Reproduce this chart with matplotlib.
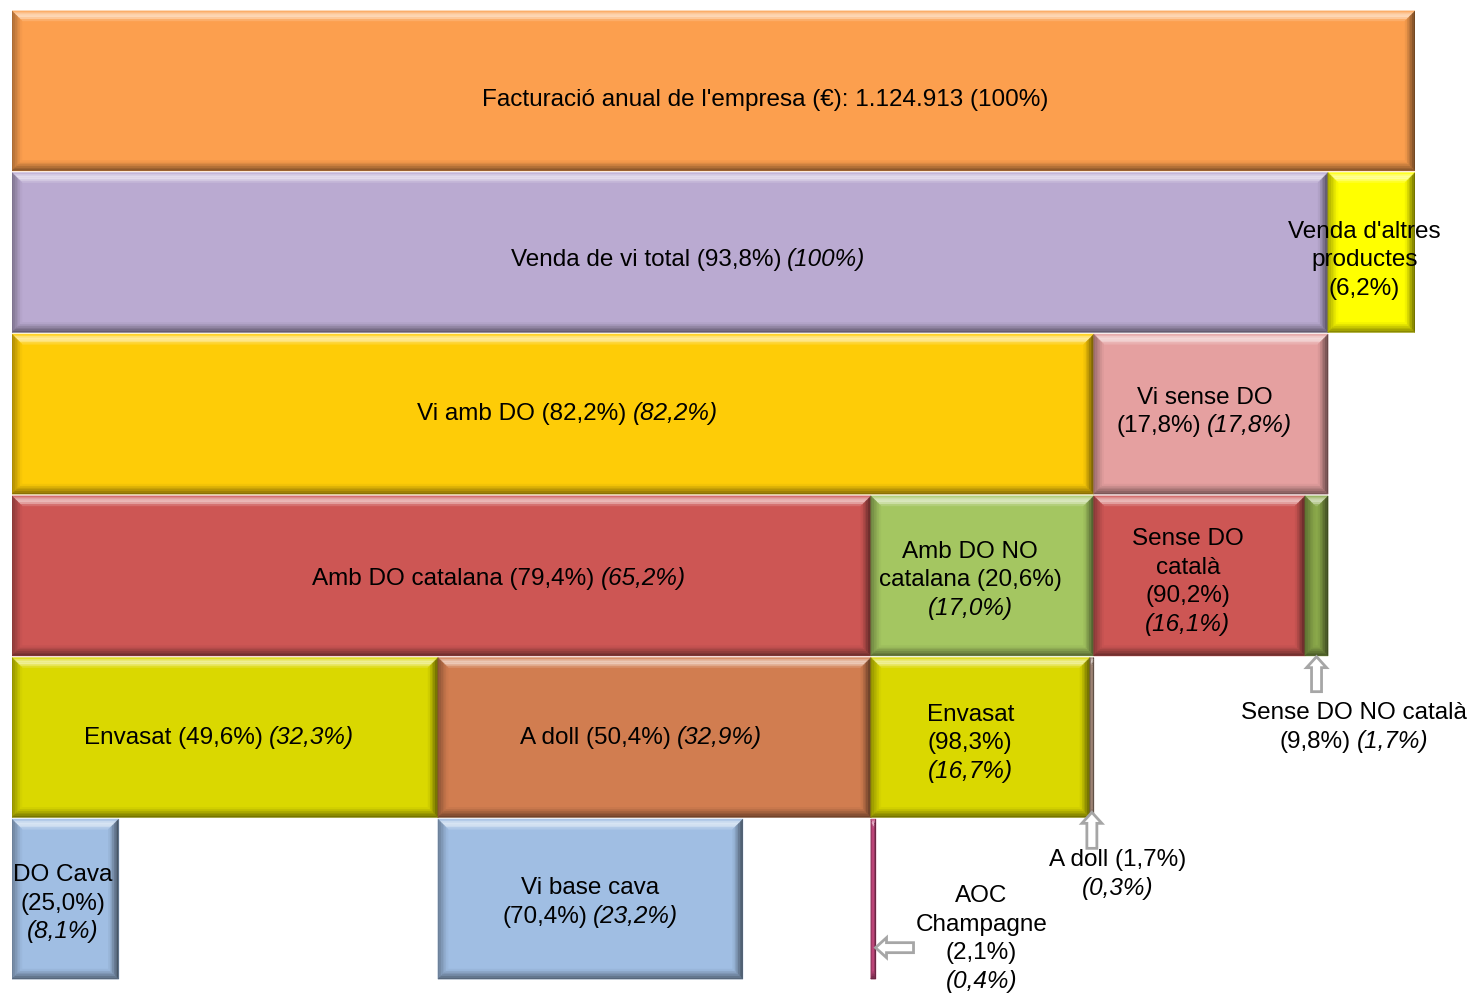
import numpy as np
import matplotlib
matplotlib.use("Agg")
import matplotlib.pyplot as plt
from matplotlib.patches import Rectangle, Polygon
from matplotlib.colors import to_rgb
from matplotlib.transforms import IdentityTransform

plt.rcParams['font.family'] = ['Liberation Sans', 'DejaVu Sans']

# facturació total de l'empresa (€)
total = 1124913

# arbre: pare de cada node, % sobre el pare, % sobre la venda de vi
parents = [-1, 0, 0, 1, 1, 3, 3, 4, 4, 5, 5, 6, 6, 9, 10, 11]
share = [100, 93.8, 6.2, 82.2, 17.8, 79.4, 20.6, 90.2, 9.8,
         49.6, 50.4, 98.3, 1.7, 25.0, 70.4, 2.1]
wine_share = [None, 100, None, 82.2, 17.8, 65.2, 17.0, 16.1, 1.7,
              32.3, 32.9, 16.7, 0.3, 8.1, 23.2, 0.4]

# etiquetes: {p} = % sobre el pare, {w} = % sobre vi, _..._ = cursiva
labels = [
    "Facturació anual de l'empresa (€): {t} {p}",
    "Venda de vi total {p} _{w}_",
    "Venda d'altres\nproductes\n{p}",
    "Vi amb DO {p} _{w}_",
    "Vi sense DO\n{p} _{w}_",
    "Amb DO catalana {p} _{w}_",
    "Amb DO NO\ncatalana {p}\n_{w}_",
    "Sense DO\ncatalà\n{p}\n_{w}_",
    "Sense DO NO català\n{p} _{w}_",
    "Envasat {p} _{w}_",
    "A doll {p} _{w}_",
    "Envasat\n{p}\n_{w}_",
    "A doll {p}\n_{w}_",
    "DO Cava\n{p}\n_{w}_",
    "Vi base cava\n{p} _{w}_",
    "AOC\nChampagne\n{p}\n_{w}_",
]

colors = ['#FC9F4E', '#BAAAD1', '#FFFF00', '#FECC07', '#E5A0A0', '#CD5654',
          '#A4C661', '#CD5654', '#8AA84A', '#DAD800', '#D17D50', '#DAD800',
          '#A58A7A', '#A0BEE3', '#A0BEE3', '#C84A80']

# centre de cada etiqueta (x en %, y en files)
label_pos = [(53.7, 0.54), (48.2, 1.53), (96.4, 1.53), (39.6, 2.48),
             (85.0, 2.47), (34.7, 3.50), (68.3, 3.51), (83.8, 3.52),
             (95.65, 4.42), (14.75, 4.485), (44.8, 4.485), (68.3, 4.52),
             (78.8, 5.33), (3.64, 5.51), (41.2, 5.505), (69.1, 5.73)]

# fletxes cap a les barres estretes: direcció, desplaçament, llargada (px)
arrows = {8: ('up', 0.0, 35), 12: ('up', -6, 36), 15: ('left', 5.80, 38)}


def pct(v):
    if v == 100:
        return "(100%)"
    return "({:.1f}%)".format(v).replace(".", ",")


n = len(parents)
x0 = [0.0] * n
wd = [100.0] * n
row = [0] * n
cursor = [0.0] * n
for i in range(1, n):
    p = parents[i]
    row[i] = row[p] + 1
    wd[i] = wd[p] * share[i] / 100
    x0[i] = cursor[p]
    cursor[p] += wd[i]
    cursor[i] = x0[i]

fig = plt.figure(figsize=(14.77, 9.93), dpi=100)
AX_W, AX_H = 1403, 970
ax = fig.add_axes([12 / 1477, 13 / 993, AX_W / 1477, AX_H / 993])
ax.set_xlim(0, 100)
ax.set_ylim(6, 0)
ax.axis('off')
SX = AX_W / 100   # px per unitat x
SY = AX_H / 6     # px per fila


def shade(c, a):
    if a > 0:
        return tuple(c + (1 - c) * a)
    return tuple(c * (1 + a))


def bevel_box(x, y, w, h, color, b=10):
    base = np.array(to_rgb(color))
    ax.add_patch(Rectangle((x, y), w, h, facecolor=color, edgecolor=color, lw=0.3))
    bx = min(b / SX, w / 2)
    by = min(b / SY, h / 2)
    steps = 6
    for k in range(steps):
        t0, t1 = k / steps, (k + 1) / steps
        tm = (t0 + t1) / 2
        ox0, oy0, ox1, oy1 = x + t0 * bx, y + t0 * by, x + w - t0 * bx, y + h - t0 * by
        ix0, iy0, ix1, iy1 = x + t1 * bx, y + t1 * by, x + w - t1 * bx, y + h - t1 * by
        sides = [
            ([(ox0, oy0), (ox1, oy0), (ix1, iy0), (ix0, iy0)], 0.6 * np.sin(np.pi * tm)),
            ([(ox0, oy0), (ix0, iy0), (ix0, iy1), (ox0, oy1)], -0.35 * (1 - tm)),
            ([(ox1, oy0), (ix1, iy0), (ix1, iy1), (ox1, oy1)], -0.6 * (1 - tm)),
            ([(ox0, oy1), (ox1, oy1), (ix1, iy1), (ix0, iy1)], -0.5 * (1 - tm)),
        ]
        for pts, a in sides:
            c = shade(base, a)
            ax.add_patch(Polygon(pts, closed=True, facecolor=c, edgecolor=c, lw=0.3))


gap = 0.006
for i in range(n):
    bevel_box(x0[i], row[i] + gap, wd[i], 1 - 2 * gap, colors[i])


def block_arrow(tx, ty, direction, length):
    hw, hl, sw = 20, 11, 10
    if direction == 'up':
        pts = [(0, 0), (hw / 2, hl), (sw / 2, hl), (sw / 2, length),
               (-sw / 2, length), (-sw / 2, hl), (-hw / 2, hl)]
    else:
        pts = [(0, 0), (hl, -hw / 2), (hl, -sw / 2), (length, -sw / 2),
               (length, sw / 2), (hl, sw / 2), (hl, hw / 2)]
    pts = [(tx + px / SX, ty + py / SY) for px, py in pts]
    ax.add_patch(Polygon(pts, closed=True, facecolor='white',
                         edgecolor='#A6A6A6', lw=2, zorder=5))


for i, (d, off, length) in arrows.items():
    if d == 'up':
        block_arrow(x0[i] + wd[i] / 2, row[i] + 1 + off / SY, d, length)
    else:
        block_arrow(x0[i] + wd[i], off, d, length)

fig.canvas.draw()
renderer = fig.canvas.get_renderer()
FS = 17.5
LS = 28.5


def draw_label(cx, cy, text):
    px, py = ax.transData.transform((cx, cy))
    lines = text.split("\n")
    nl = len(lines)
    for li, line in enumerate(lines):
        segs = [(s.strip(), k % 2 == 1) for k, s in enumerate(line.split("_")) if s.strip()]
        arts = [fig.text(0, 0, s, fontsize=FS, style='italic' if it else 'normal',
                         transform=IdentityTransform(), ha='left', va='baseline', zorder=10)
                for s, it in segs]
        widths = [a.get_window_extent(renderer).width for a in arts]
        sp = 6
        tot = sum(widths) + sp * (len(arts) - 1)
        xx = px - tot / 2
        yy = py + ((nl - 1) / 2 - li) * LS - 0.36 * FS * 100 / 72
        for a, w in zip(arts, widths):
            a.set_position((xx, yy))
            xx += w + sp


for i in range(n):
    txt = labels[i].format(t="{:,}".format(total).replace(",", "."), p=pct(share[i]),
                           w=pct(wine_share[i]) if wine_share[i] is not None else "")
    draw_label(label_pos[i][0], label_pos[i][1], txt)

fig.savefig('out.png', dpi=100)
